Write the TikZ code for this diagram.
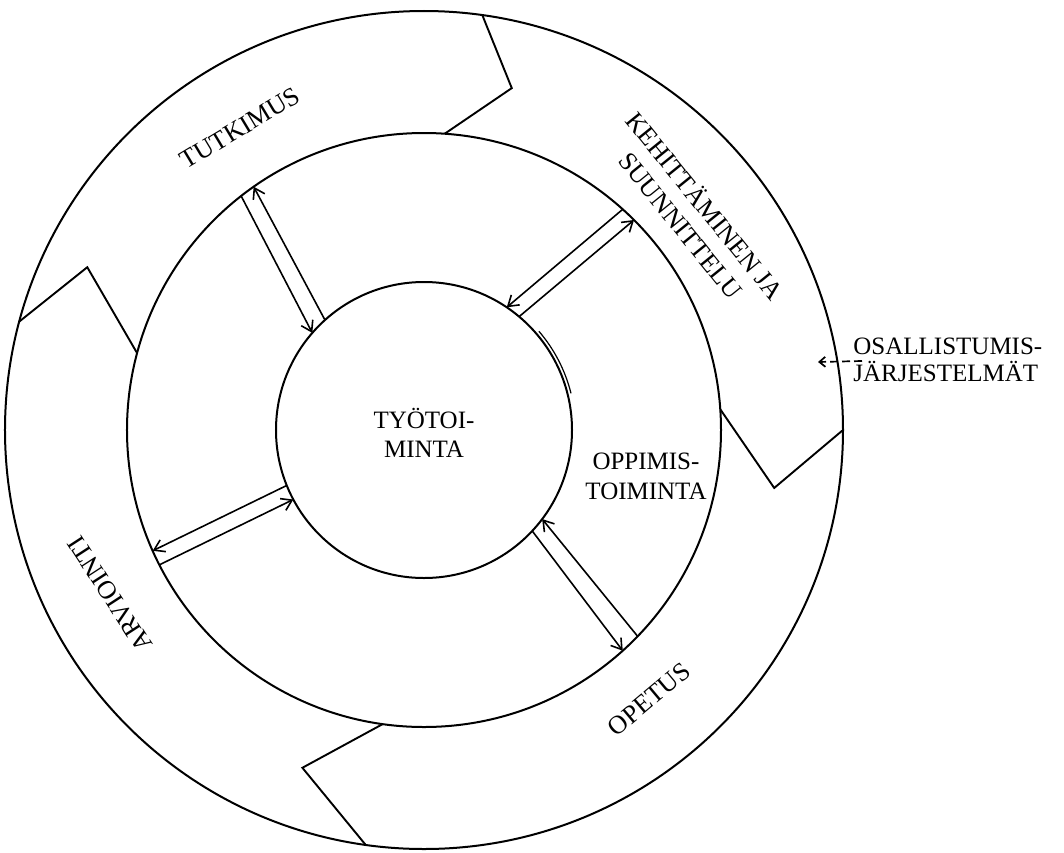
\documentclass[tikz,border=0pt]{standalone}
\usepackage{fontspec}
\setmainfont{Liberation Serif}
\usetikzlibrary{arrows.meta}
\begin{document}
\begin{tikzpicture}[x=0.5pt,y=0.5pt,
  ring/.style={circle, draw, line width=1pt, inner sep=0pt, outer sep=0pt},
  band/.style={line width=0.95pt, line join=miter},
  flow/.style={line width=0.8pt, -{Straight Barb[length=5pt,width=6.5pt,line width=0.8pt]}},
  lab/.style={font=\fontsize{13}{15.5}\selectfont, inner sep=0pt},
  txt/.style={inner sep=0pt},
  dasharrow/.style={line width=0.85pt, dash pattern=on 4pt off 2pt, -{Straight Barb[length=3pt,width=5pt,line width=0.85pt]}}
]
\useasboundingbox (-424,-422) rectangle (640,430);
% rings
\node[ring, minimum size=419pt] (outer) at (0,0) {};
\node[ring, minimum size=297pt] (mid) at (0,0) {};
\node[ring, minimum size=148pt] (inner) at (0,0) {};
% chevron boundaries of the bands
\coordinate (v1) at (75.6:353);
\draw[band] (outer.82.8) -- (v1) -- (mid.86.9);
\coordinate (v4) at (-9.4:355);
\draw[band] (mid.4.3) -- (v4) -- (outer.0.3);
\coordinate (v3) at (250.2:359);
\draw[band] (mid.262.2) -- (v3) -- (outer.262);
\coordinate (v2) at (154.2:374);
\draw[band] (outer.165.2) -- (v2) -- (mid.165.2);
% double arrows
\draw[flow] (mid.128.3) -- (inner.139.3);
\draw[flow] (inner.132.6) -- (mid.125.3);
\draw[flow] (mid.48.1) -- (inner.56);
\draw[flow] (inner.50.4) -- (mid.45);
\draw[flow] (inner.202.6) -- (mid.204.9);
\draw[flow] (mid.207.9) -- (inner.208.6);
\draw[flow] (inner.317.1) -- (mid.312);
\draw[flow] (mid.316.2) -- (inner.323.7);
% stray stroke beside inner ring
\coordinate (s1) at (40.7:151.5);
\draw[line width=0.6pt] (s1) arc[start angle=40.7, end angle=14, radius=75.75pt];
% labels
\node[lab, rotate=31] (tut) at (-184,302) {TUTKIMUS};
\node[lab, rotate=-51, align=center] (keh) at (270,215) {KEHITTÄMINEN JA\\SUUNNITTELU};
\node[lab, rotate=40] (ope) at (225,-269) {OPETUS};
\node[lab, rotate=123] (arv) at (-314,-164) {ARVIOINTI};
\node[txt, font=\fontsize{12.5}{14.5}\selectfont, align=center, anchor=north] (tyo) at (0,22) {TYÖTOI-\\MINTA};
\node[txt, font=\fontsize{12.5}{15}\selectfont, align=center, anchor=north] (opp) at (222,-23) {OPPIMIS-\\TOIMINTA};
\node[txt, font=\fontsize{12.5}{13.5}\selectfont, align=left, anchor=north west] (osa) at (429,92) {OSALLISTUMIS-\\JÄRJESTELMÄT};
% dashed arrow
\coordinate (dstart) at (438,69);
\coordinate (dtip) at (394,68);
\draw[dasharrow] (dstart) -- (dtip);
\end{tikzpicture}
\end{document}
